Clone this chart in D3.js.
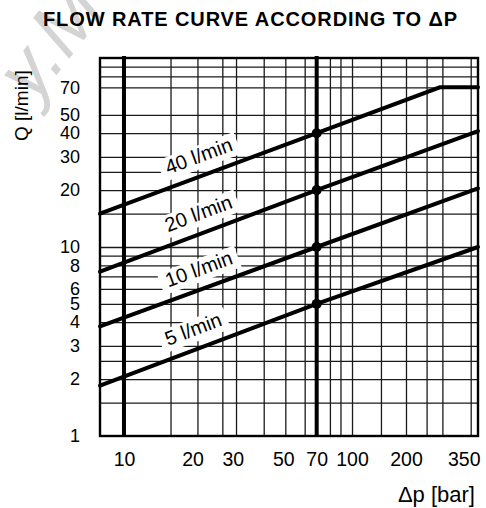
<!DOCTYPE html>
<html>
<head>
<meta charset="utf-8">
<script src="https://cdn.jsdelivr.net/npm/d3@7"></script>
<style>
  body { margin: 0; background: #fff; }
  svg { display: block; font-family: "Liberation Sans", Arial, sans-serif; }
</style>
</head>
<body>
<div id="chart"></div>
<script>
'use strict';
// flow rate Q [l/min] against pressure drop dp [bar], log-log paper

// one straight line per nominal flow, [dp, Q]
const curve40 = [[7.85, 15], [70, 40], [268, 70], [380, 70]];
const curve20 = [[7.85, 7.4], [70, 20], [380, 41]];
const curve10 = [[7.85, 3.8], [70, 10], [380, 20.4]];
const curve5 = [[7.85, 1.85], [70, 5], [380, 10]];
const curves = [curve40, curve20, curve10, curve5];
const curveNames = ['40 l/min', '20 l/min', '10 l/min', '5 l/min'];
const nominalFlow = [40, 20, 10, 5];
const nominalDp = 70;

const xTicks = [10, 20, 30, 50, 70, 100, 200, 350];
const yTicks = [1, 2, 3, 4, 5, 6, 8, 10, 20, 30, 40, 50, 70];
const xGrid = [16, 21, 27, 31, 41, 51, 62, 80, 89, 100, 145, 200, 239, 274, 350];
const yGrid = [1.5, 2, 2.5, 3, 4, 5, 6, 7, 8, 9, 10, 15, 20, 25, 30, 40, 50, 70, 80, 90];
const xBold = [10, 70];

const W = 486, H = 508;
const margin = {top: 58, right: 8, bottom: 72, left: 100};
const width = W - margin.left - margin.right;
const height = H - margin.top - margin.bottom;

const svg = d3.select('#chart').append('svg')
  .attr('width', W)
  .attr('height', H)
  .style('background', '#fff');

// faint watermark in the top left corner, kept under the texts
svg.append('text')
  .attr('transform', 'translate(34,104) rotate(-52)')
  .attr('font-size', 78)
  .attr('font-style', 'italic')
  .attr('fill', '#d4d4d4')
  .text('y.M');

// the printed grid is not quite logarithmic above 100 bar
const x = d3.scaleLog()
  .domain([7.85, 100, 200, 350, 380])
  .range([0, 0.6667, 0.8095, 0.9807, 1].map(f => f * width));

const y = d3.scaleLog()
  .domain([1, 100])
  .range([height, 0]);

const g = svg.append('g')
  .attr('transform', `translate(${margin.left},${margin.top})`);

// grid
const gridX = g.append('g')
  .attr('transform', `translate(0,${height})`)
  .call(d3.axisBottom(x).tickValues(xGrid).tickSize(-height).tickFormat(''));
const gridY = g.append('g')
  .call(d3.axisLeft(y).tickValues(yGrid).tickSize(-width).tickFormat(''));
[gridX, gridY].forEach(a => {
  a.select('.domain').remove();
  a.selectAll('line').attr('stroke', '#1a1a1a').attr('stroke-width', 1.3);
});

g.selectAll('.bold-line')
  .data(xBold)
  .enter()
  .append('line')
  .attr('class', 'bold-line')
  .attr('x1', d => x(d))
  .attr('x2', d => x(d))
  .attr('y1', -2)
  .attr('y2', height)
  .attr('stroke', '#000')
  .attr('stroke-width', 4);

g.append('rect')
  .attr('width', width)
  .attr('height', height)
  .attr('fill', 'none')
  .attr('stroke', '#000')
  .attr('stroke-width', 2.4);

// curve labels sit on white patches along each line
const labelDp = 15.6;
const qAt = (c, dp) => {
  const t = Math.log(dp / c[0][0]) / Math.log(c[1][0] / c[0][0]);
  return c[0][1] * Math.pow(c[1][1] / c[0][1], t);
};

const labels = g.selectAll('.curve-label')
  .data(curves)
  .enter()
  .append('g')
  .attr('class', 'curve-label')
  .attr('transform', c => {
    const ang = Math.atan2(y(c[1][1]) - y(c[0][1]), x(c[1][0]) - x(c[0][0])) * 180 / Math.PI;
    return `translate(${x(labelDp)},${y(qAt(c, labelDp))}) rotate(${ang})`;
  });

labels.append('rect')
  .attr('fill', '#fff');

labels.append('text')
  .attr('x', 5)
  .attr('y', -13)
  .attr('font-size', 20)
  .attr('fill', '#000')
  .text((c, i) => curveNames[i]);

labels.each(function(){
  const len = d3.select(this).select('text').node().getComputedTextLength();
  d3.select(this).select('rect')
    .attr('x', -1)
    .attr('y', -30)
    .attr('width', len + 12)
    .attr('height', 23);
});

const line = d3.line()
  .x(d => x(d[0]))
  .y(d => y(d[1]));

g.selectAll('.curve')
  .data(curves)
  .enter()
  .append('path')
  .attr('class', 'curve')
  .attr('d', line)
  .attr('fill', 'none')
  .attr('stroke', '#000')
  .attr('stroke-width', 4)
  .attr('stroke-linecap', 'round');

g.selectAll('.dot')
  .data(nominalFlow)
  .enter()
  .append('circle')
  .attr('class', 'dot')
  .attr('cx', x(nominalDp))
  .attr('cy', d => y(d))
  .attr('r', 5)
  .attr('fill', '#000');

// tick labels
const xAxis = g.append('g')
  .attr('transform', `translate(0,${height})`)
  .call(d3.axisBottom(x).tickValues(xTicks).tickSize(0).tickPadding(16).tickFormat(d3.format('d')));
const yAxis = g.append('g')
  .call(d3.axisLeft(y).tickValues(yTicks).tickSize(0).tickPadding(20).tickFormat(d3.format('d')));
[xAxis, yAxis].forEach(a => {
  a.select('.domain').remove();
  a.attr('font-family', null).attr('font-size', null);
  a.selectAll('text').attr('fill', '#000');
});
xAxis.selectAll('text').attr('font-size', 19.5);
yAxis.selectAll('text').attr('font-size', 18);
// keep the last label inside the frame
xAxis.selectAll('.tick text').each(function(d){
  const len = this.getComputedTextLength();
  const over = x(d) + len / 2 - (width + 2);
  if (over > 0) d3.select(this).attr('dx', -over);
});

svg.append('text')
  .attr('x', 250)
  .attr('y', 26)
  .attr('text-anchor', 'middle')
  .attr('font-size', 20)
  .attr('font-weight', 'bold')
  .attr('textLength', 414)
  .attr('lengthAdjust', 'spacing')
  .text('FLOW RATE CURVE ACCORDING TO \u0394P');

svg.append('text')
  .attr('transform', 'translate(28,141) rotate(-90)')
  .attr('font-size', 19)
  .text('Q [l/min]');

svg.append('text')
  .attr('x', 475)
  .attr('y', 502)
  .attr('text-anchor', 'end')
  .attr('font-size', 22)
  .text('\u0394p [bar]');
</script>
</body>
</html>
